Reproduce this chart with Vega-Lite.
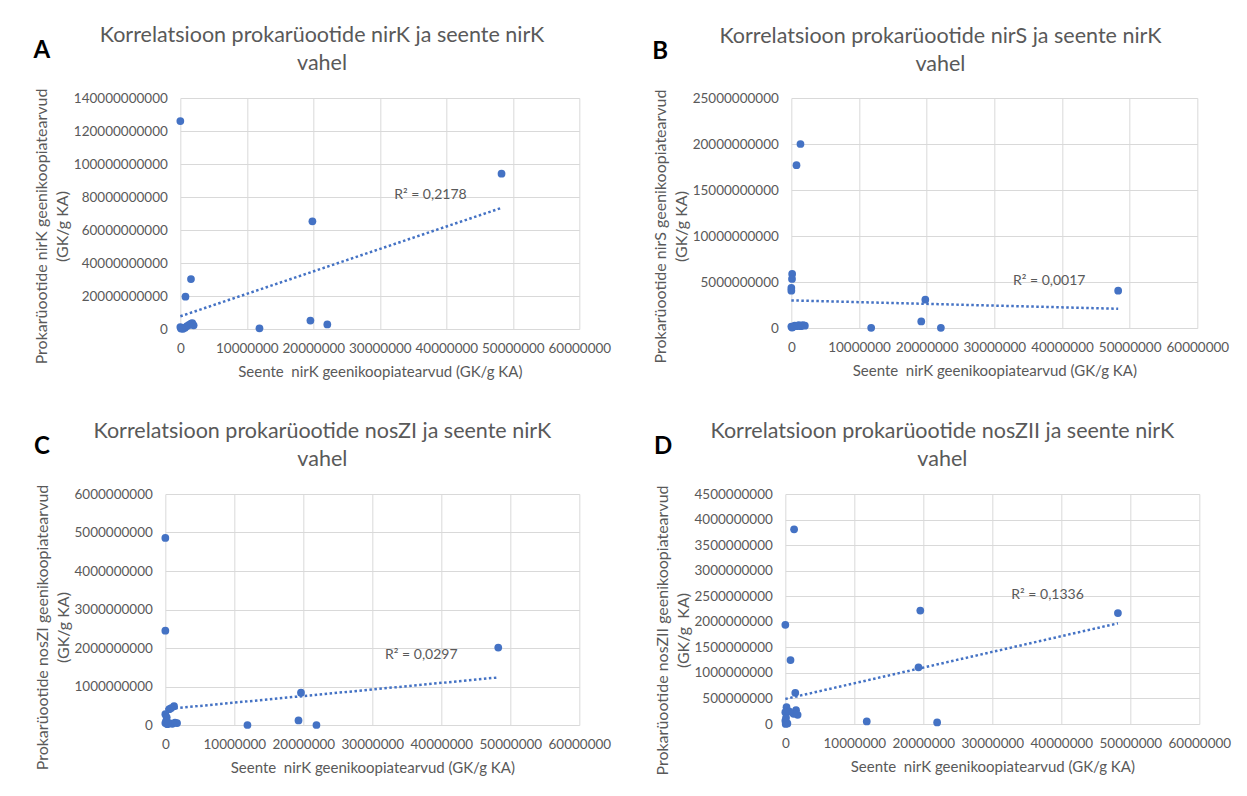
{
  "$schema": "https://vega.github.io/schema/vega-lite/v6.json",
  "background": "white",
  "padding": {"left": 33, "top": 24, "right": 0, "bottom": 5},
  "datasets": {
    "points": [
      {"panel": "A", "x": 0, "y": 126000000000},
      {"panel": "A", "x": 48300000, "y": 94100000000},
      {"panel": "A", "x": 19860000, "y": 65300000000},
      {"panel": "A", "x": 1600000, "y": 30300000000},
      {"panel": "A", "x": 770000, "y": 19600000000},
      {"panel": "A", "x": 19560000, "y": 5100000000},
      {"panel": "A", "x": 22100000, "y": 2800000000},
      {"panel": "A", "x": 11900000, "y": 400000000},
      {"panel": "A", "x": 0, "y": 1200000000},
      {"panel": "A", "x": 100000, "y": 300000000},
      {"panel": "A", "x": 400000, "y": 100000000},
      {"panel": "A", "x": 700000, "y": 800000000},
      {"panel": "A", "x": 1000000, "y": 1800000000},
      {"panel": "A", "x": 1300000, "y": 2500000000},
      {"panel": "A", "x": 1600000, "y": 3200000000},
      {"panel": "A", "x": 1800000, "y": 3600000000},
      {"panel": "A", "x": 2000000, "y": 2200000000},
      {"panel": "A", "x": 200000, "y": 600000000},
      {"panel": "B", "x": 1350000, "y": 20000000000},
      {"panel": "B", "x": 760000, "y": 17700000000},
      {"panel": "B", "x": 120000, "y": 5870000000},
      {"panel": "B", "x": 100000, "y": 5330000000},
      {"panel": "B", "x": 0, "y": 4350000000},
      {"panel": "B", "x": 0, "y": 4060000000},
      {"panel": "B", "x": 19800000, "y": 3080000000},
      {"panel": "B", "x": 19200000, "y": 720000000},
      {"panel": "B", "x": 22100000, "y": 20000000},
      {"panel": "B", "x": 11800000, "y": 20000000},
      {"panel": "B", "x": 48300000, "y": 4060000000},
      {"panel": "B", "x": 0, "y": 150000000},
      {"panel": "B", "x": 200000, "y": 100000000},
      {"panel": "B", "x": 500000, "y": 250000000},
      {"panel": "B", "x": 800000, "y": 200000000},
      {"panel": "B", "x": 1100000, "y": 300000000},
      {"panel": "B", "x": 1400000, "y": 200000000},
      {"panel": "B", "x": 1700000, "y": 300000000},
      {"panel": "B", "x": 2000000, "y": 250000000},
      {"panel": "B", "x": 100000, "y": 50000000},
      {"panel": "C", "x": 0, "y": 4860000000},
      {"panel": "C", "x": 0, "y": 2450000000},
      {"panel": "C", "x": 48250000, "y": 2010000000},
      {"panel": "C", "x": 19660000, "y": 840000000},
      {"panel": "C", "x": 19300000, "y": 120000000},
      {"panel": "C", "x": 21900000, "y": 0},
      {"panel": "C", "x": 11900000, "y": 0},
      {"panel": "C", "x": 1260000, "y": 490000000},
      {"panel": "C", "x": 570000, "y": 410000000},
      {"panel": "C", "x": 0, "y": 280000000},
      {"panel": "C", "x": 200000, "y": 200000000},
      {"panel": "C", "x": 850000, "y": 440000000},
      {"panel": "C", "x": 0, "y": 50000000},
      {"panel": "C", "x": 300000, "y": 20000000},
      {"panel": "C", "x": 600000, "y": 50000000},
      {"panel": "C", "x": 1000000, "y": 30000000},
      {"panel": "C", "x": 1400000, "y": 60000000},
      {"panel": "C", "x": 1700000, "y": 50000000},
      {"panel": "C", "x": 100000, "y": 100000000},
      {"panel": "D", "x": 1270000, "y": 3810000000},
      {"panel": "D", "x": 19560000, "y": 2220000000},
      {"panel": "D", "x": 48200000, "y": 2170000000},
      {"panel": "D", "x": 0, "y": 1940000000},
      {"panel": "D", "x": 750000, "y": 1250000000},
      {"panel": "D", "x": 19300000, "y": 1110000000},
      {"panel": "D", "x": 1440000, "y": 610000000},
      {"panel": "D", "x": 11800000, "y": 50000000},
      {"panel": "D", "x": 22000000, "y": 30000000},
      {"panel": "D", "x": 170000, "y": 330000000},
      {"panel": "D", "x": 1550000, "y": 270000000},
      {"panel": "D", "x": 1780000, "y": 180000000},
      {"panel": "D", "x": 0, "y": 230000000},
      {"panel": "D", "x": 0, "y": 65000000},
      {"panel": "D", "x": 50000, "y": 0},
      {"panel": "D", "x": 300000, "y": 10000000},
      {"panel": "D", "x": 1200000, "y": 200000000},
      {"panel": "D", "x": 600000, "y": 240000000},
      {"panel": "D", "x": 100000, "y": 120000000}
    ],
    "trends": [
      {"panel": "A", "x": 0, "y": 7700000000},
      {"panel": "A", "x": 48300000, "y": 73400000000},
      {"panel": "B", "x": 0, "y": 3000000000},
      {"panel": "B", "x": 48300000, "y": 2090000000},
      {"panel": "C", "x": 0, "y": 410000000},
      {"panel": "C", "x": 48250000, "y": 1235000000},
      {"panel": "D", "x": 0, "y": 490000000},
      {"panel": "D", "x": 48200000, "y": 1970000000}
    ],
    "labels": [
      {"panel": "A", "x": 37600000, "y": 81300000000, "label": "R² = 0,2178"},
      {"panel": "B", "x": 38100000, "y": 5070000000, "label": "R² = 0,0017"},
      {"panel": "C", "x": 37100000, "y": 1820000000, "label": "R² = 0,0297"},
      {"panel": "D", "x": 38000000, "y": 2520000000, "label": "R² = 0,1336"}
    ]
  },
  "config": {
    "font": "Lato",
    "view": {"stroke": null},
    "axis": {
      "domain": false, "ticks": false, "grid": true, "gridColor": "#d9d9d9", "gridWidth": 1,
      "labelColor": "#595959", "titleColor": "#595959", "labelFont": "Lato", "titleFont": "Lato",
      "labelFontSize": 13.5, "titleFontWeight": "normal", "labelFlush": false, "labelOverlap": false
    },
    "axisX": {"labelPadding": 12, "titlePadding": 10, "titleFontSize": 15},
    "axisY": {"labelPadding": 13, "titlePadding": 3, "titleFontSize": 16, "titleLineHeight": 21},
    "title": {"font": "Lato"}
  },
  "spacing": 40,
  "center": true,
  "vconcat": [
    {
      "spacing": 40,
      "hconcat": [
        {
          "title": {"text": "A", "anchor": "start", "frame": "bounds", "fontSize": 24, "fontWeight": "bold", "color": "#000000", "offset": 0, "dy": 38},
          "vconcat": [
            {
              "title": {"text": ["Korrelatsioon prokarüootide nirK ja seente nirK", "vahel"], "anchor": "middle", "frame": "bounds", "fontSize": 21.5, "fontWeight": "normal", "color": "#595959", "lineHeight": 28, "offset": 14},
              "width": 399, "height": 231,
              "encoding": {
                "x": {"field": "x", "type": "quantitative", "scale": {"domain": [0, 60000000], "nice": false},
                      "axis": {"values": [0, 10000000, 20000000, 30000000, 40000000, 50000000, 60000000], "format": "d", "title": "Seente \u00a0nirK geenikoopiatearvud (GK/g KA)"}},
                "y": {"field": "y", "type": "quantitative", "scale": {"domain": [0, 140000000000], "nice": false},
                      "axis": {"values": [0, 20000000000, 40000000000, 60000000000, 80000000000, 100000000000, 120000000000, 140000000000], "format": "d", "title": ["Prokarüootide nirK geenikoopiatearvud", "(GK/g KA)"], "titleY": 128}}
              },
              "layer": [
                {"data": {"name": "points"}, "transform": [{"filter": "datum.panel === 'A'"}], "mark": {"type": "circle", "size": 60, "color": "#4472C4", "opacity": 1}, "encoding": {}},
                {"data": {"name": "trends"}, "transform": [{"filter": "datum.panel === 'A'"}], "mark": {"type": "line", "color": "#4472C4", "strokeDash": [2.5, 2.5], "strokeWidth": 2.5}, "encoding": {}},
                {"data": {"name": "labels"}, "transform": [{"filter": "datum.panel === 'A'"}], "mark": {"type": "text", "fontSize": 14, "color": "#595959", "font": "Lato"}, "encoding": {"text": {"field": "label"}}}
              ]
            }
          ]
        },
        {
          "title": {"text": "B", "anchor": "start", "frame": "bounds", "fontSize": 24, "fontWeight": "bold", "color": "#000000", "offset": 0, "dy": 38},
          "vconcat": [
            {
              "title": {"text": ["Korrelatsioon prokarüootide nirS ja seente nirK", "vahel"], "anchor": "middle", "frame": "bounds", "fontSize": 21.5, "fontWeight": "normal", "color": "#595959", "lineHeight": 28, "offset": 14},
              "width": 406, "height": 230,
              "encoding": {
                "x": {"field": "x", "type": "quantitative", "scale": {"domain": [0, 60000000], "nice": false},
                      "axis": {"values": [0, 10000000, 20000000, 30000000, 40000000, 50000000, 60000000], "format": "d", "title": "Seente \u00a0nirK geenikoopiatearvud (GK/g KA)"}},
                "y": {"field": "y", "type": "quantitative", "scale": {"domain": [0, 25000000000], "nice": false},
                      "axis": {"values": [0, 5000000000, 10000000000, 15000000000, 20000000000, 25000000000], "format": "d", "title": ["Prokarüootide nirS geenikoopiatearvud", "(GK/g KA)"], "titleY": 128}}
              },
              "layer": [
                {"data": {"name": "points"}, "transform": [{"filter": "datum.panel === 'B'"}], "mark": {"type": "circle", "size": 60, "color": "#4472C4", "opacity": 1}, "encoding": {}},
                {"data": {"name": "trends"}, "transform": [{"filter": "datum.panel === 'B'"}], "mark": {"type": "line", "color": "#4472C4", "strokeDash": [2.5, 2.5], "strokeWidth": 2.5}, "encoding": {}},
                {"data": {"name": "labels"}, "transform": [{"filter": "datum.panel === 'B'"}], "mark": {"type": "text", "fontSize": 14, "color": "#595959", "font": "Lato"}, "encoding": {"text": {"field": "label"}}}
              ]
            }
          ]
        }
      ]
    },
    {
      "spacing": 42,
      "hconcat": [
        {
          "title": {"text": "C", "anchor": "start", "frame": "bounds", "fontSize": 24, "fontWeight": "bold", "color": "#000000", "offset": 0, "dy": 38},
          "vconcat": [
            {
              "title": {"text": ["Korrelatsioon prokarüootide nosZI ja seente nirK", "vahel"], "anchor": "middle", "frame": "bounds", "fontSize": 21.5, "fontWeight": "normal", "color": "#595959", "lineHeight": 28, "offset": 14},
              "width": 414, "height": 231,
              "encoding": {
                "x": {"field": "x", "type": "quantitative", "scale": {"domain": [0, 60000000], "nice": false},
                      "axis": {"values": [0, 10000000, 20000000, 30000000, 40000000, 50000000, 60000000], "format": "d", "title": "Seente \u00a0nirK geenikoopiatearvud (GK/g KA)"}},
                "y": {"field": "y", "type": "quantitative", "scale": {"domain": [0, 6000000000], "nice": false},
                      "axis": {"values": [0, 1000000000, 2000000000, 3000000000, 4000000000, 5000000000, 6000000000], "format": "d", "title": ["Prokarüootide nosZI geenikoopiatearvud", "(GK/g KA)"], "titleY": 133}}
              },
              "layer": [
                {"data": {"name": "points"}, "transform": [{"filter": "datum.panel === 'C'"}], "mark": {"type": "circle", "size": 60, "color": "#4472C4", "opacity": 1}, "encoding": {}},
                {"data": {"name": "trends"}, "transform": [{"filter": "datum.panel === 'C'"}], "mark": {"type": "line", "color": "#4472C4", "strokeDash": [2.5, 2.5], "strokeWidth": 2.5}, "encoding": {}},
                {"data": {"name": "labels"}, "transform": [{"filter": "datum.panel === 'C'"}], "mark": {"type": "text", "fontSize": 14, "color": "#595959", "font": "Lato"}, "encoding": {"text": {"field": "label"}}}
              ]
            }
          ]
        },
        {
          "title": {"text": " ", "orient": "right", "frame": "bounds", "fontSize": 4, "offset": 9, "color": "#ffffff"},
          "vconcat": [
            {
              "title": {"text": "D", "anchor": "start", "frame": "bounds", "fontSize": 24, "fontWeight": "bold", "color": "#000000", "offset": 0, "dy": 38},
              "vconcat": [
                {
                  "title": {"text": ["Korrelatsioon prokarüootide nosZII ja seente nirK", "vahel"], "anchor": "middle", "frame": "bounds", "fontSize": 21.5, "fontWeight": "normal", "color": "#595959", "lineHeight": 28, "offset": 14},
                  "width": 414, "height": 230,
                  "encoding": {
                    "x": {"field": "x", "type": "quantitative", "scale": {"domain": [0, 60000000], "nice": false},
                          "axis": {"values": [0, 10000000, 20000000, 30000000, 40000000, 50000000, 60000000], "format": "d", "title": "Seente \u00a0nirK geenikoopiatearvud (GK/g KA)"}},
                    "y": {"field": "y", "type": "quantitative", "scale": {"domain": [0, 4500000000], "nice": false},
                          "axis": {"values": [0, 500000000, 1000000000, 1500000000, 2000000000, 2500000000, 3000000000, 3500000000, 4000000000, 4500000000], "format": "d", "title": ["Prokarüootide nosZII geenikoopiatearvud", "(GK/g \u00a0KA)"], "titleY": 136}}
                  },
                  "layer": [
                    {"data": {"name": "points"}, "transform": [{"filter": "datum.panel === 'D'"}], "mark": {"type": "circle", "size": 60, "color": "#4472C4", "opacity": 1}, "encoding": {}},
                    {"data": {"name": "trends"}, "transform": [{"filter": "datum.panel === 'D'"}], "mark": {"type": "line", "color": "#4472C4", "strokeDash": [2.5, 2.5], "strokeWidth": 2.5}, "encoding": {}},
                    {"data": {"name": "labels"}, "transform": [{"filter": "datum.panel === 'D'"}], "mark": {"type": "text", "fontSize": 14, "color": "#595959", "font": "Lato"}, "encoding": {"text": {"field": "label"}}}
                  ]
                }
              ]
            }
          ]
        }
      ]
    }
  ]
}
